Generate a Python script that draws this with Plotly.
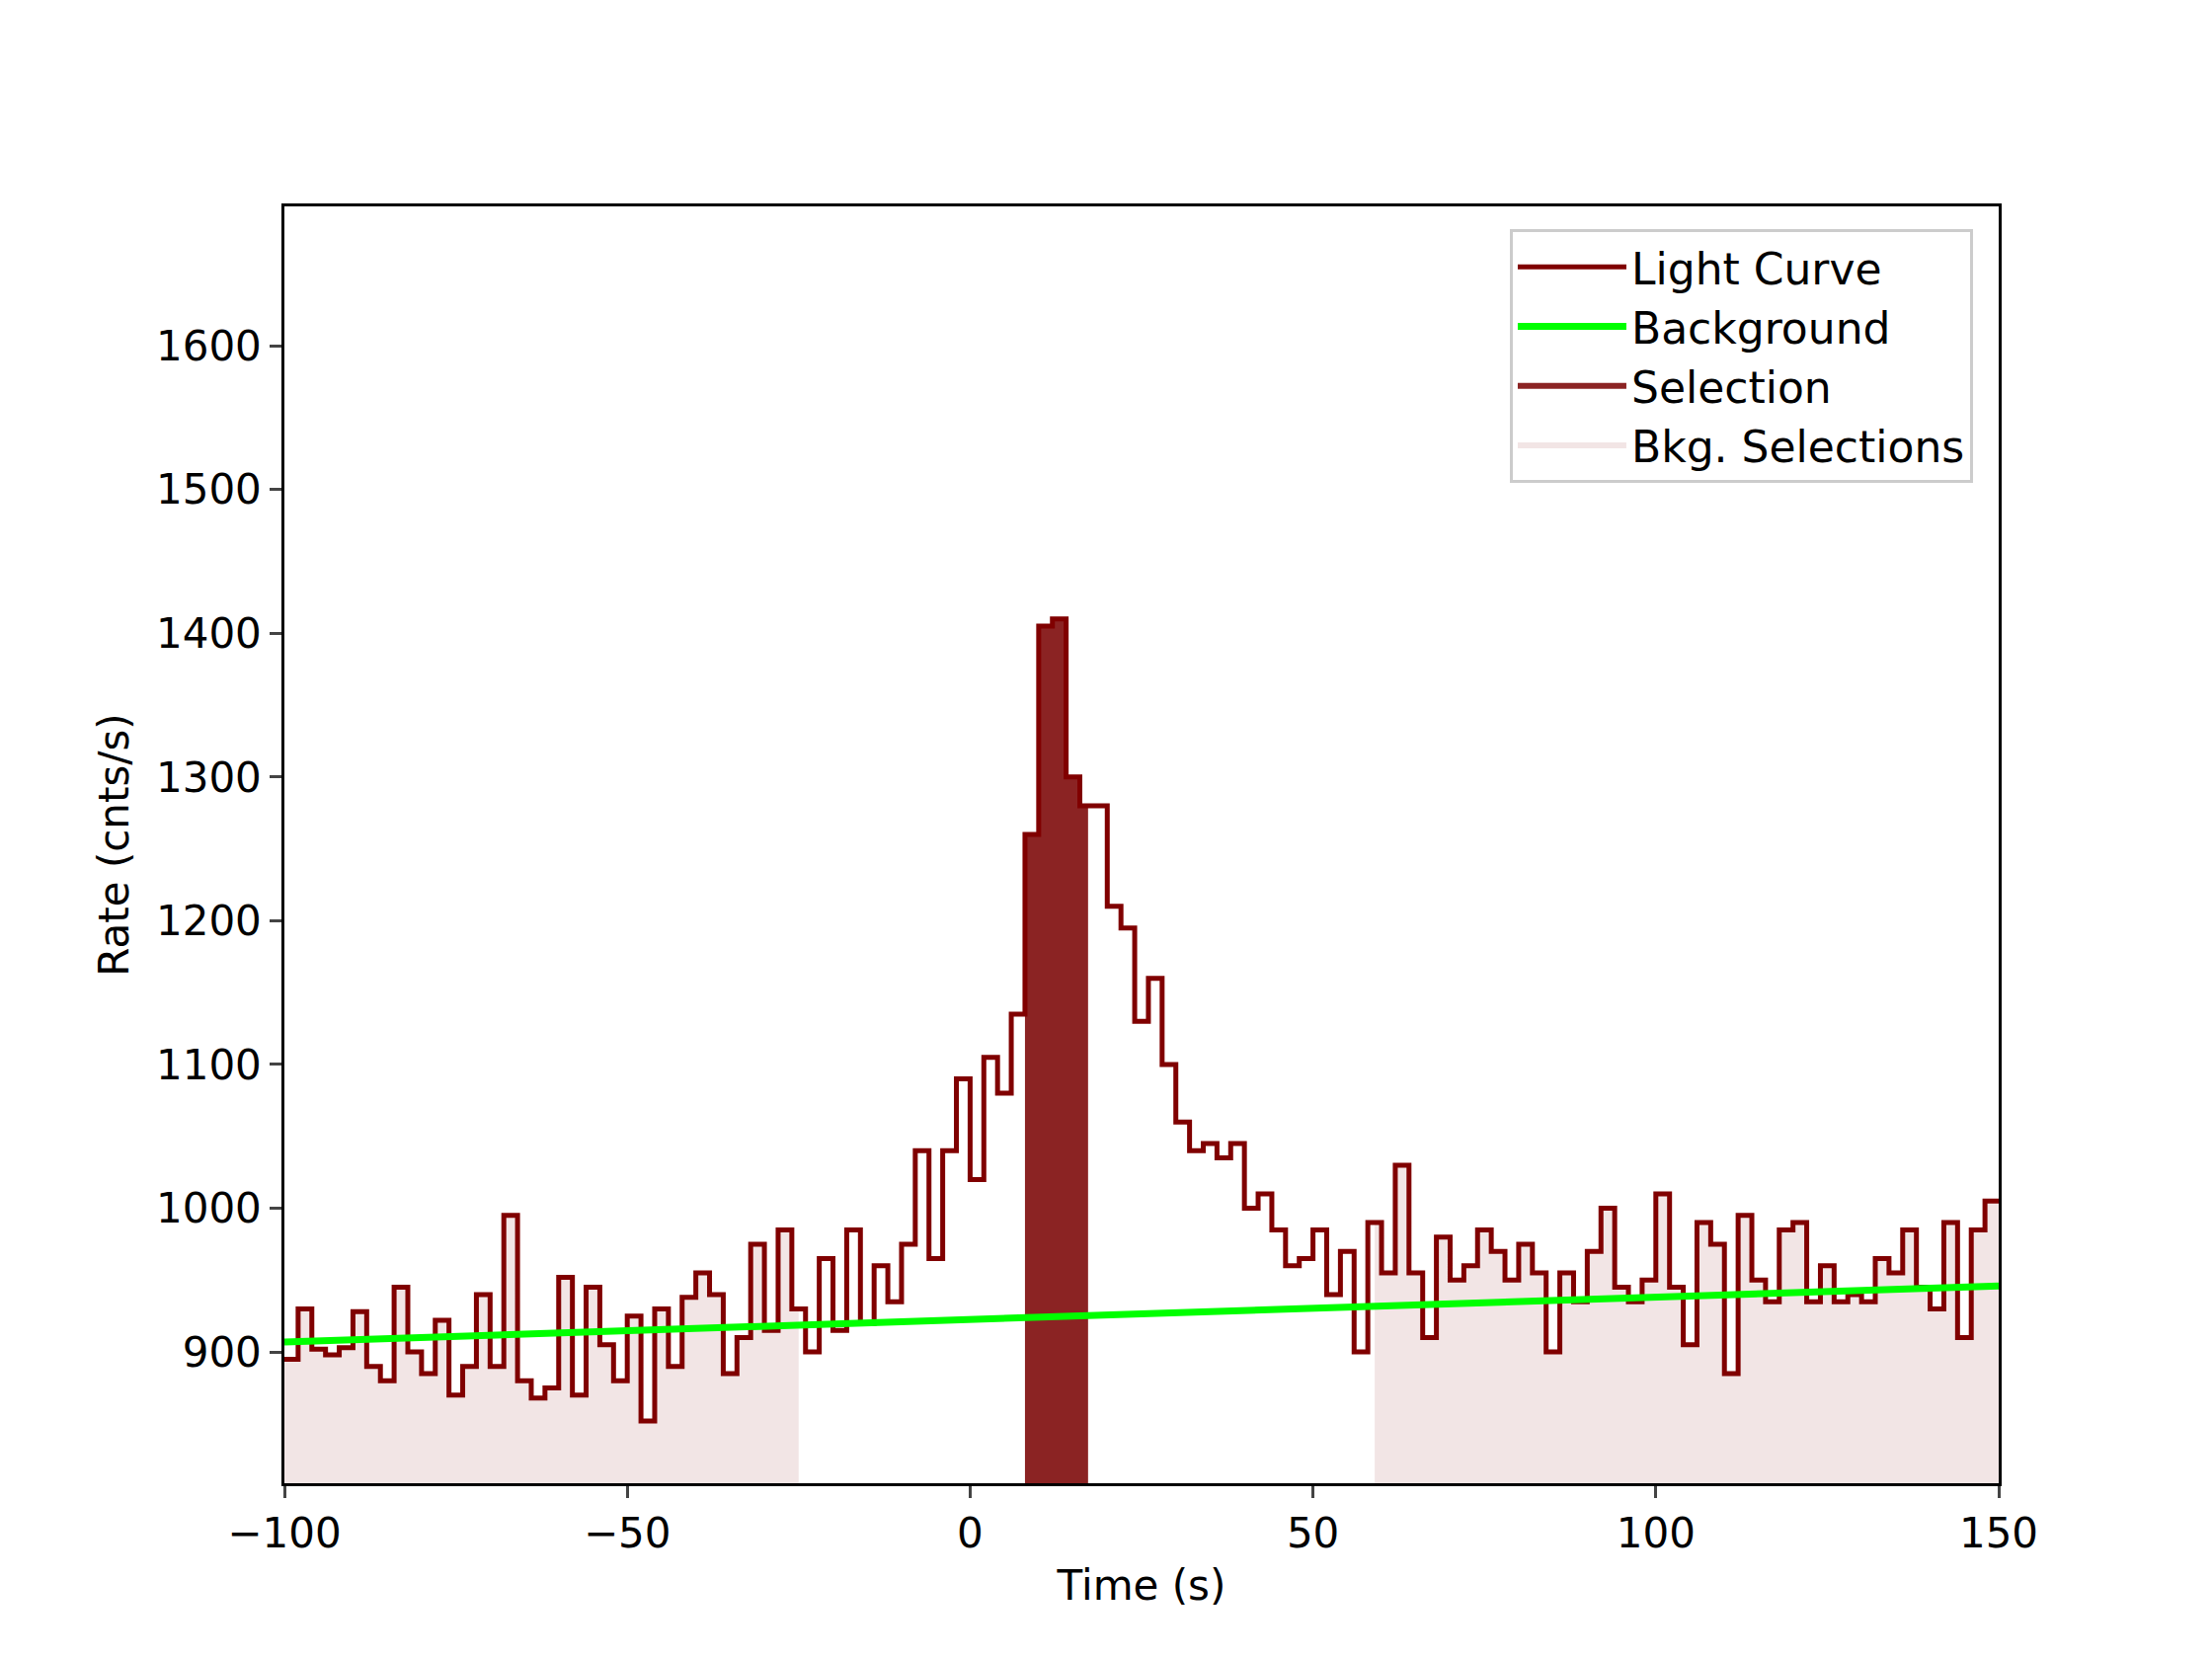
import numpy as np
import plotly.graph_objects as go

bin_width = 2.0
t_start = -100.0
rates = [895,930,902,898,903,928,890,880,945,900,885,922,870,890,940,890,995,880,868,875,
         952,870,945,905,880,925,852,930,890,938,955,940,885,910,975,915,
         985,930,900,965,915,985,920,960,935,975,1040,965,1040,1090,1020,1105,1080,
         1135,1260,1405,1410,1300,1280,1280,1210,1195,1130,1160,1100,1060,1040,1045,1035,1045,1000,
         1010,985,960,965,985,940,970,900,990,955,1030,955,910,980,950,960,985,970,950,975,
         955,900,955,935,970,1000,945,935,950,1010,945,905,990,975,885,995,950,935,985,990,
         935,960,935,940,935,965,955,985,945,930,990,910,985,1005]
bkg_t = [-100, 150]
bkg_rate = [907, 946]
sel_range = [8.0, 17.2]
bkg_ranges = [[-100.0, -25.0], [59.0, 150.0]]

starts = t_start + bin_width*np.arange(len(rates))
rates_a = np.array(rates, float)

def val_at(t):
    i = int(np.clip((t - t_start)//bin_width, 0, len(rates)-1))
    return rates_a[i]

def poly(a, b):
    inner = [s for s in starts if a < s < b]
    xs, ys = [a, a], [0, val_at(a)]
    for s in inner:
        xs += [s, s]
        ys += [val_at(s - 1e-9), val_at(s)]
    xs += [b, b]
    ys += [val_at(b - 1e-9), 0]
    return xs, ys

fig = go.Figure()
for k, (a, b) in enumerate(bkg_ranges):
    xs, ys = poly(a, b)
    fig.add_trace(go.Scatter(x=xs, y=ys, mode='none',
                             fill='toself', fillcolor='rgba(128,0,0,0.1)',
                             name='Bkg. Selections', showlegend=(k == 0), legendrank=4,
                             hoverinfo='skip'))
xs, ys = poly(*sel_range)
fig.add_trace(go.Scatter(x=xs, y=ys, mode='none',
                         fill='toself', fillcolor='#8b2323', name='Selection', legendrank=3))
fig.add_trace(go.Scatter(x=list(starts)+[starts[-1]+bin_width], y=list(rates)+[rates[-1]],
                         mode='lines', line=dict(color='#800000', width=5, shape='hv'),
                         name='Light Curve', legendrank=1))
fig.add_trace(go.Scatter(x=bkg_t, y=bkg_rate, mode='lines', line=dict(color='#00ff00', width=7),
                         name='Background', legendrank=2))

fig.update_layout(
    width=2240, height=1680, paper_bgcolor='white', plot_bgcolor='white',
    margin=dict(l=280, r=224, t=201, b=186),
    font=dict(family='DejaVu Sans', size=40, color='black'),
    legend=dict(x=0.985, y=0.982, xanchor='right', yanchor='top', bgcolor='white',
                bordercolor='#cccccc', borderwidth=3, font=dict(size=44), itemwidth=110,
                tracegroupgap=12),
)
fig.update_xaxes(range=[-100, 150], tickvals=[-100, -50, 0, 50, 100, 150],
                 ticktext=['\u2212100', '\u221250', '0', '50', '100', '150'],
                 showgrid=False, zeroline=False, showline=True, linecolor='black', linewidth=2.5,
                 mirror=True, ticks='outside', ticklen=12, tickwidth=2.5,
                 title=dict(text='Time (s)', font=dict(size=42)), tickfont=dict(size=42))
fig.update_yaxes(range=[808.7, 1697], tickvals=[900, 1000, 1100, 1200, 1300, 1400, 1500, 1600],
                 showgrid=False, zeroline=False, showline=True, linecolor='black', linewidth=2.5,
                 mirror=True, ticks='outside', ticklen=12, tickwidth=2.5,
                 title=dict(text='Rate (cnts/s)', font=dict(size=42)), tickfont=dict(size=42))
fig.write_html('out.html')
